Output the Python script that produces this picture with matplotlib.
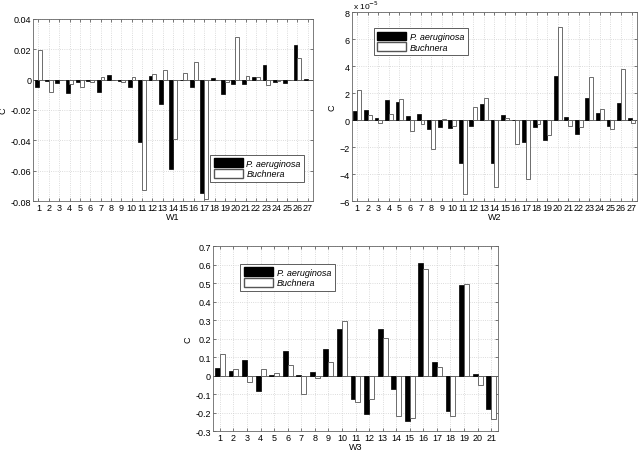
import numpy as np
import matplotlib
matplotlib.use('Agg')
import matplotlib.pyplot as plt
from matplotlib.patches import Patch

plt.rcParams['font.family'] = ['Liberation Sans', 'DejaVu Sans']
plt.rcParams['font.size'] = 6

# W1 values
w1_pa = [-0.005, -0.0006, -0.0022, -0.009, -0.0017, -0.0007, -0.0083, 0.003, -0.0007,
         -0.0048, -0.041, 0.0026, -0.016, -0.059, -0.0005, -0.005, -0.075, 0.0009,
         -0.0092, -0.003, -0.0029, 0.0018, 0.0097, -0.0015, -0.0024, 0.0226, 0.0002]
w1_bu = [0.0198, -0.0083, -0.0003, -0.003, -0.0046, -0.0013, 0.0015, -0.0005, -0.0013,
         0.0015, -0.073, 0.0035, 0.006, -0.039, 0.0042, 0.0114, -0.0787, -0.0003,
         -0.0018, 0.028, 0.0022, 0.0018, -0.0033, -0.0011, -0.0003, 0.014, -0.0003]

# W2 values (x 1e-5)
w2_pa = [0.64, 0.77, 0.15, 1.46, 1.31, 0.27, 0.47, -0.67, -0.54, -0.59, -3.2, -0.42,
         1.21, -3.2, 0.35, 0.02, -1.65, -0.52, -1.5, 3.26, 0.22, -1.01, 1.63, 0.49,
         -0.44, 1.28, 0.12]
w2_bu = [2.22, 0.4, -0.2, 0.42, 1.56, -0.84, -0.32, -2.17, 0.05, -0.47, -5.5, 0.99,
         1.6, -4.94, 0.12, -1.8, -4.4, -0.32, -1.09, 6.86, -0.44, -0.54, 3.16, 0.81,
         -0.64, 3.8, -0.25]

# W3 values
w3_pa = [0.043, 0.025, 0.086, -0.083, 0.005, 0.131, 0.004, 0.022, 0.142, 0.252, -0.124,
         -0.205, 0.25, -0.072, -0.243, 0.609, 0.074, -0.189, 0.492, 0.009, -0.18]
w3_bu = [0.117, 0.036, -0.036, 0.034, 0.014, 0.059, -0.101, -0.011, 0.072, 0.295, -0.144,
         -0.126, 0.204, -0.22, -0.229, 0.577, 0.047, -0.22, 0.497, -0.05, -0.234]

series_names = ['P. aeruginosa', 'Buchnera']


def draw(ax, pa, bu, ylim, yticks, xlabel, legend_loc, legend_anchor):
    n = len(pa)
    x = np.arange(1, n + 1)
    w = 0.37
    ax.bar(x - 0.18, pa, w, color='black', edgecolor='black', linewidth=0.5, zorder=3)
    ax.bar(x + 0.18, bu, w, color='white', edgecolor='#555555', linewidth=0.6, zorder=3)
    ax.axhline(0, color='#555555', linewidth=0.6, zorder=2)
    ax.set_xlim(0.5, n + 0.5)
    ax.set_ylim(*ylim)
    ax.set_xticks(x)
    ax.set_xticklabels([str(i) for i in x])
    ax.set_yticks(yticks)
    ax.grid(True, color='#d0d0d0', linestyle=':', linewidth=0.6, zorder=0)
    ax.tick_params(direction='in', top=True, right=True, length=2.5, width=0.5,
                   pad=1.5, labelsize=6.5, color='#444444')
    for s in ax.spines.values():
        s.set_color('#666666')
        s.set_linewidth(0.6)
    ax.set_xlabel(xlabel, labelpad=0, fontsize=6.5)
    ax.set_ylabel('C', labelpad=2, fontsize=6.5)
    handles = [Patch(facecolor='black', edgecolor='black'),
               Patch(facecolor='white', edgecolor='#555555')]
    leg = ax.legend(handles, series_names, loc=legend_loc, bbox_to_anchor=legend_anchor,
                    prop={'style': 'italic', 'size': 6.5}, fancybox=False,
                    edgecolor='#444444', framealpha=1, handlelength=3.2,
                    handleheight=1.1, borderpad=0.4, labelspacing=0.15,
                    handletextpad=0.4)
    leg.get_frame().set_linewidth(0.6)


fig = plt.figure(figsize=(6.4, 4.52), dpi=100)

ax1 = fig.add_axes([0.052, 0.553, 0.437, 0.403])
draw(ax1, w1_pa, w1_bu, (-0.08, 0.04), np.arange(-0.08, 0.041, 0.02), 'W1',
     'lower right', (0.985, 0.08))
ax1.set_yticklabels(['-0.08', '-0.06', '-0.04', '-0.02', '0', '0.02', '0.04'])

ax2 = fig.add_axes([0.55, 0.553, 0.445, 0.418])
draw(ax2, w2_pa, w2_bu, (-6, 8), np.arange(-6, 9, 2), 'W2',
     'upper left', (0.06, 0.94))
ax2.text(0.005, 1.006, r'x 10$^{-5}$', transform=ax2.transAxes, fontsize=6,
         ha='left', va='bottom')

ax3 = fig.add_axes([0.333, 0.044, 0.445, 0.409])
draw(ax3, w3_pa, w3_bu, (-0.3, 0.7), np.arange(-0.3, 0.71, 0.1), 'W3',
     'upper left', (0.08, 0.93))
ax3.set_yticklabels(['-0.3', '-0.2', '-0.1', '0', '0.1', '0.2', '0.3', '0.4',
                     '0.5', '0.6', '0.7'])

fig.savefig('out.png', dpi=100, facecolor='white')
